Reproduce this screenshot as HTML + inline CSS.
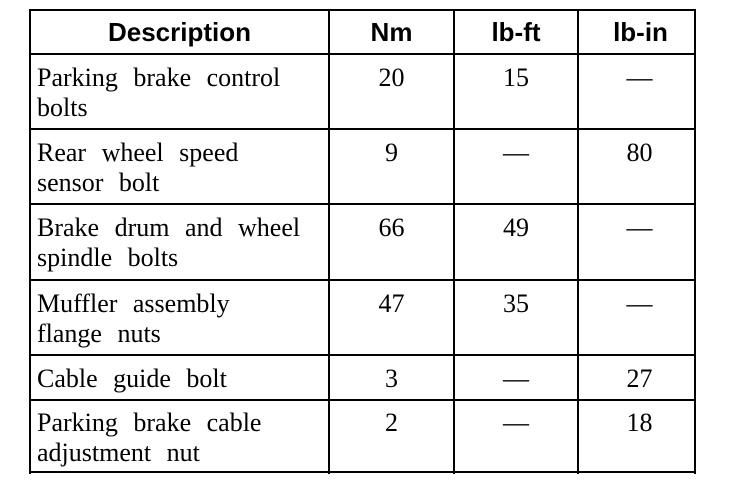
<!DOCTYPE html>
<html>
<head>
<meta charset="utf-8">
<style>
  html, body { margin:0; padding:0; background:#fff; }
  body { width:736px; height:484px; position:relative; overflow:hidden; }
  .h { position:absolute; background:#000; height:2px; left:29px; width:667px; }
  .v { position:absolute; background:#000; width:2px; top:9px; height:465px; }
  .t { position:absolute; font-family:"Liberation Serif", "Times New Roman", serif; font-size:26px; line-height:30px; color:#000; white-space:nowrap; word-spacing:9px; }
  .hd { position:absolute; font-family:"Liberation Sans", Arial, sans-serif; font-weight:bold; font-size:26px; line-height:30px; color:#000; white-space:nowrap; text-align:center; top:17px; }
  .c2 { left:330px; width:123px; text-align:center; }
  .c3 { left:455px; width:122px; text-align:center; }
  .c4 { left:582px; width:115px; text-align:center; }
</style>
</head>
<body>
  <!-- horizontal lines -->
  <div class="h" style="top:9px"></div>
  <div class="h" style="top:53px"></div>
  <div class="h" style="top:128px"></div>
  <div class="h" style="top:203px"></div>
  <div class="h" style="top:279px"></div>
  <div class="h" style="top:354px"></div>
  <div class="h" style="top:399px"></div>
  <div class="h" style="top:471px"></div>
  <!-- vertical lines -->
  <div class="v" style="left:29px"></div>
  <div class="v" style="left:328px"></div>
  <div class="v" style="left:453px"></div>
  <div class="v" style="left:577px"></div>
  <div class="v" style="left:694px"></div>

  <!-- header -->
  <div class="hd" style="left:31px;width:297px;">Description</div>
  <div class="hd" style="left:330px;width:123px;">Nm</div>
  <div class="hd" style="left:455px;width:122px;">lb-ft</div>
  <div class="hd" style="left:579px;width:115px;padding-left:4px;">lb-in</div>

  <!-- row 1 -->
  <div class="t" style="left:37px;top:63px;">Parking brake control<br>bolts</div>
  <div class="t c2" style="top:63px;">20</div>
  <div class="t c3" style="top:63px;">15</div>
  <div class="t c4" style="top:63px;">—</div>

  <!-- row 2 -->
  <div class="t" style="left:37px;top:138px;">Rear wheel speed<br>sensor bolt</div>
  <div class="t c2" style="top:138px;">9</div>
  <div class="t c3" style="top:138px;">—</div>
  <div class="t c4" style="top:138px;">80</div>

  <!-- row 3 -->
  <div class="t" style="left:37px;top:213px;">Brake drum and wheel<br>spindle bolts</div>
  <div class="t c2" style="top:213px;">66</div>
  <div class="t c3" style="top:213px;">49</div>
  <div class="t c4" style="top:213px;">—</div>

  <!-- row 4 -->
  <div class="t" style="left:37px;top:289px;">Muffler assembly<br>flange nuts</div>
  <div class="t c2" style="top:289px;">47</div>
  <div class="t c3" style="top:289px;">35</div>
  <div class="t c4" style="top:289px;">—</div>

  <!-- row 5 -->
  <div class="t" style="left:37px;top:364px;">Cable guide bolt</div>
  <div class="t c2" style="top:364px;">3</div>
  <div class="t c3" style="top:364px;">—</div>
  <div class="t c4" style="top:364px;">27</div>

  <!-- row 6 -->
  <div class="t" style="left:37px;top:408px;">Parking brake cable<br>adjustment nut</div>
  <div class="t c2" style="top:408px;">2</div>
  <div class="t c3" style="top:408px;">—</div>
  <div class="t c4" style="top:408px;">18</div>
</body>
</html>
